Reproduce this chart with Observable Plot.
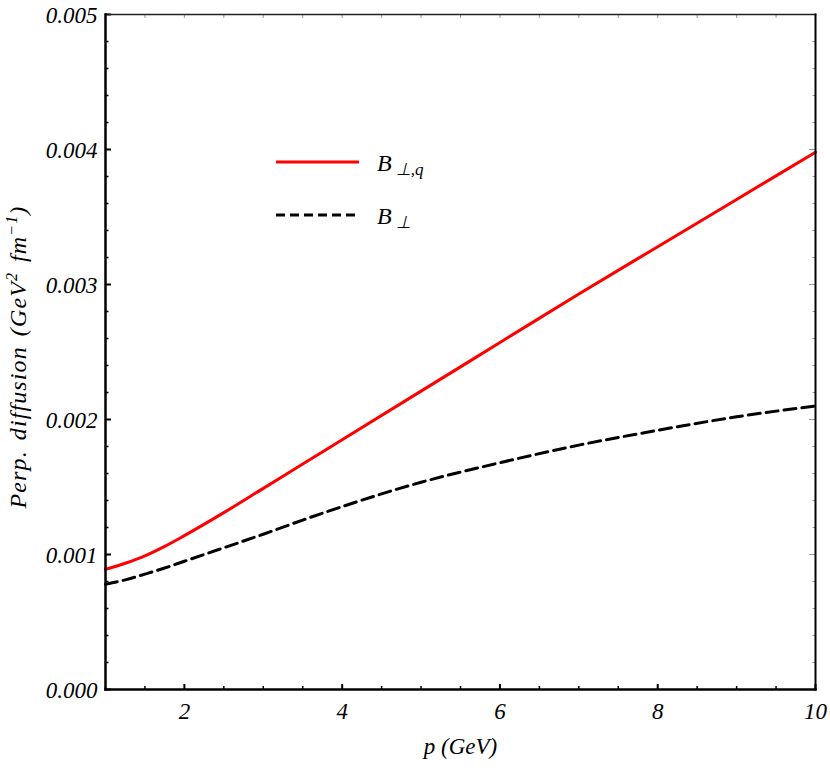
<!DOCTYPE html>
<html><head><meta charset="utf-8">
<script src="https://cdn.jsdelivr.net/npm/d3@7"></script>
<script src="https://cdn.jsdelivr.net/npm/@observablehq/plot@0.6"></script>
<style>
body{margin:0;background:#fff;}
#wrap{position:relative;width:830px;height:771px;}
#wrap svg text{font-family:"Liberation Serif","Times New Roman",serif !important;}
</style></head><body><div id="wrap"></div>
<script>
// ---- data ----
const p = [1, 1.25, 1.5, 1.75, 2, 2.5, 3, 3.5, 4, 5, 6, 7, 8, 9, 10];
const bPerpQ = [0.00089, 0.000935, 0.00099, 0.00106, 0.00114, 0.00131, 0.00149, 0.00167, 0.00185, 0.00221, 0.00257, 0.00293, 0.00328, 0.00363, 0.00398];
const bPerp  = [0.00078, 0.000812, 0.000855, 0.00090, 0.00095, 0.00105, 0.00115, 0.001255, 0.001355, 0.001535, 0.00168, 0.00181, 0.00192, 0.00202, 0.00210];
const xTicks = [2, 4, 6, 8, 10];
const xMinorTicks = [1, 1.5, 2.5, 3, 3.5, 4.5, 5, 5.5, 6.5, 7, 7.5, 8.5, 9, 9.5];
const yTicks = [0, 0.001, 0.002, 0.003, 0.004, 0.005];
const yTickLabels = ["0.000", "0.001", "0.002", "0.003", "0.004", "0.005"];
const yMinorTicks = d3.range(0, 26).map(i => i * 0.0002).filter(v => Math.abs(v / 0.001 - Math.round(v / 0.001)) > 1e-6);
const xLabel = "p (GeV)";
const seriesNames = ["B⊥,q", "B⊥"];

const rowsQ = p.map((x, i) => ({p: x, v: bPerpQ[i]}));
const rowsP = p.map((x, i) => ({p: x, v: bPerp[i]}));

const font = "Liberation Serif, Times New Roman, serif";
const chart = Plot.plot({
  width: 830, height: 771,
  marginLeft: 105, marginRight: 15, marginTop: 14, marginBottom: 82,
  x: {domain: [1, 10]},
  y: {domain: [0, 0.005]},
  style: {fontFamily: font, fontStyle: "italic", fontSize: "23px", color: "#000", background: "#fff", overflow: "visible"},
  marks: [
    Plot.line(rowsQ, {x: "p", y: "v", stroke: "#ff0000", strokeWidth: 3, curve: "monotone-x"}),
    Plot.line(rowsP, {x: "p", y: "v", stroke: "#000", strokeWidth: 3, strokeDasharray: "12,6", curve: "monotone-x"}),
    Plot.axisY(yMinorTicks, {anchor: "left", tickSize: -3.5, text: null, label: null, strokeWidth: 1.5}),
    Plot.axisY(yTicks, {anchor: "left", tickSize: -6, text: null, label: null, strokeWidth: 2}),
    Plot.axisY(yTicks, {anchor: "left", tickSize: 0, tickPadding: 8, tickFormat: (d, i) => yTickLabels[i], label: null, dy: 1.5}),
    Plot.axisY(yMinorTicks, {anchor: "right", tickSize: -3.5, text: null, label: null, stroke: "#999", strokeWidth: 1}),
    Plot.axisY(yTicks, {anchor: "right", tickSize: -7, text: null, label: null, stroke: "#999", strokeWidth: 1}),
    Plot.axisX(xMinorTicks, {anchor: "bottom", tickSize: -3, text: null, label: null, strokeWidth: 1.5}),
    Plot.axisX(xTicks, {anchor: "bottom", tickSize: -5, text: null, label: null, strokeWidth: 2}),
    Plot.axisX(xTicks, {anchor: "bottom", tickSize: 0, tickPadding: 13, label: null}),
    Plot.axisX(xMinorTicks.concat(xTicks), {anchor: "top", tickSize: -3, text: null, label: null, stroke: "#999", strokeWidth: 1}),
    Plot.frame({anchor: "top", stroke: "#222", strokeWidth: 1.5}),
    Plot.frame({anchor: "right", stroke: "#000", strokeWidth: 2}),
    Plot.frame({anchor: "left", stroke: "#000", strokeWidth: 2.5}),
    Plot.frame({anchor: "bottom", stroke: "#000", strokeWidth: 2.5}),
    Plot.text([xLabel], {text: d => d, frameAnchor: "bottom", dy: 64, fontSize: 23})
  ]
});
document.getElementById("wrap").appendChild(chart);

const svg = d3.select(chart);
// y-axis label with superscripts
const yl = svg.append("text")
  .attr("transform", "translate(26,357) rotate(-90)")
  .attr("text-anchor", "middle")
  .attr("font-style", "italic").attr("font-size", 24)
  .attr("letter-spacing", 1.1).attr("word-spacing", 3)
  .attr("fill", "#000");
yl.append("tspan").text("Perp. diffusion (GeV");
yl.append("tspan").attr("dy", -9).attr("font-size", 16).text("2");
yl.append("tspan").attr("dy", 9).text(" fm");
yl.append("tspan").attr("dy", -9).attr("font-size", 16).text("−1");
yl.append("tspan").attr("dy", 9).text(")");

// legend
const lg = svg.append("g").attr("font-style", "italic").attr("fill", "#000").attr("text-anchor", "start");
const items = [
  {name: "B", sub: "⊥,q", stroke: "#ff0000", dash: null, y: 162},
  {name: "B", sub: "⊥", stroke: "#000", dash: "9,5", y: 215}
];
items.forEach((it, i) => {
  lg.append("line").attr("x1", 276).attr("x2", 359).attr("y1", it.y).attr("y2", it.y)
    .attr("stroke", it.stroke).attr("stroke-width", 3).attr("stroke-dasharray", it.dash);
  const t = lg.append("text").attr("x", 377).attr("y", it.y + 9).attr("font-size", 24);
  t.append("tspan").text(it.name);
  t.append("tspan").attr("dx", 4).attr("dy", 4).attr("font-size", 17).text(it.sub);
});
</script>
</body></html>
